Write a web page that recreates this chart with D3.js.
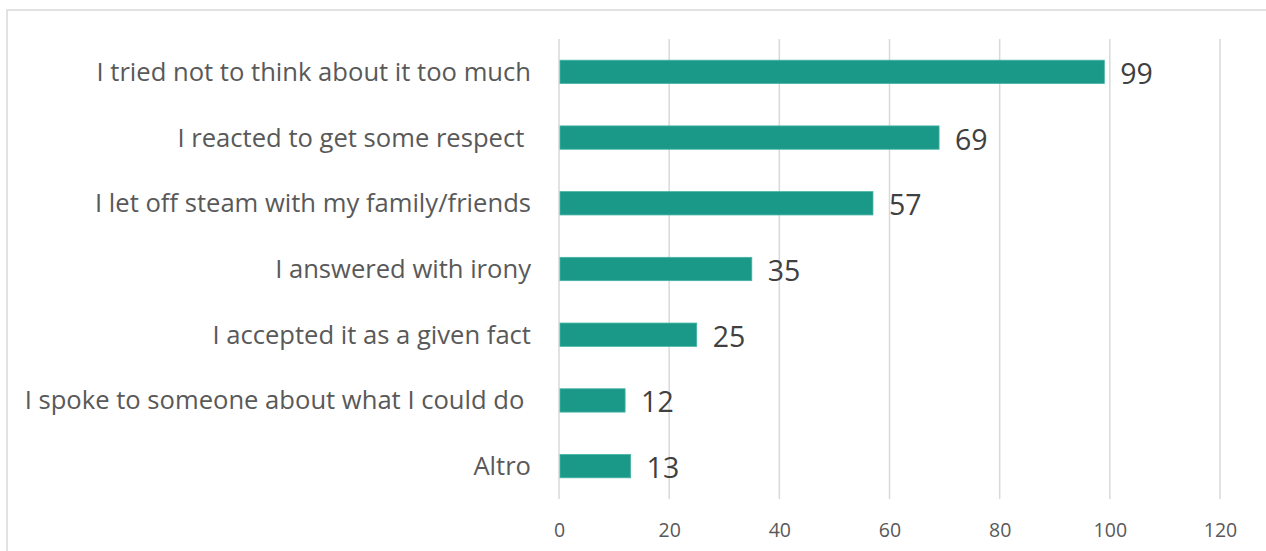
<!DOCTYPE html>
<html>
<head>
<meta charset="utf-8">
<script src="https://cdn.jsdelivr.net/npm/d3@7"></script>
<style>
  html, body { margin: 0; padding: 0; background: #fff; }
  svg { display: block; }
</style>
</head>
<body>
<svg id="chart" width="1266" height="551"></svg>
<script>
// Reactions, one bar per answer
const categories = [
  "I tried not to think about it too much",
  "I reacted to get some respect ",
  "I let off steam with my family/friends",
  "I answered with irony",
  "I accepted it as a given fact",
  "I spoke to someone about what I could do ",
  "Altro"
];
const values = [99, 69, 57, 35, 25, 12, 13];
const tickValues = [0, 20, 40, 60, 80, 100, 120];

const svg = d3.select("#chart");
const W = 1266, H = 551;

// chart frame
svg.append("rect")
  .attr("x", 7).attr("y", 10)
  .attr("width", W + 10).attr("height", H + 10)
  .attr("fill", "#fff")
  .attr("stroke", "#d9d9d9").attr("stroke-width", 1.5);

const plotTop = 39, plotBottom = 499;

const x = d3.scaleLinear().domain([0, 120]).range([559, 1220]);
const y = d3.scaleBand()
  .domain(categories)
  .range([plotTop, plotBottom])
  .paddingInner(0.645)
  .paddingOuter(0.3225);

// vertical gridlines
svg.append("g")
  .selectAll("line")
  .data(tickValues)
  .join("line")
  .attr("x1", d => x(d)).attr("x2", d => x(d))
  .attr("y1", plotTop).attr("y2", plotBottom)
  .attr("stroke", "#d9d9d9").attr("stroke-width", 1.5);

// value axis labels
const axis = d3.axisBottom(x).tickValues(tickValues).tickSize(0).tickPadding(0);
const gx = svg.append("g").attr("transform", `translate(0, 524)`).call(axis);
gx.select(".domain").remove();
gx.selectAll("text")
  .attr("dy", "0.35em")
  .attr("y", 6)
  .attr("fill", "#595959")
  .style("font-family", "'Open Sans', sans-serif")
  .style("font-size", "19.5px");

// bars
svg.append("g")
  .selectAll("rect")
  .data(categories)
  .join("rect")
  .attr("x", x(0) + 1)
  .attr("y", d => y(d))
  .attr("width", (d, i) => x(values[i]) - x(0) - 1)
  .attr("height", y.bandwidth())
  .attr("fill", "#1a9988")
  .attr("stroke", "#45b3a4").attr("stroke-width", 0.8);

// category labels
svg.append("g")
  .selectAll("text")
  .data(categories)
  .join("text")
  .attr("x", 531)
  .attr("y", d => y(d) + y.bandwidth() / 2)
  .attr("dy", "0.35em")
  .attr("text-anchor", "end")
  .attr("fill", "#595959")
  .style("white-space", "pre")
  .style("font-family", "'Open Sans', sans-serif")
  .style("font-size", "25.6px")
  .text(d => d);

// value labels
svg.append("g")
  .selectAll("text")
  .data(categories)
  .join("text")
  .attr("x", (d, i) => x(values[i]) + 16)
  .attr("y", d => y(d) + y.bandwidth() / 2 + 2)
  .attr("dy", "0.35em")
  .attr("fill", "#404040")
  .style("font-family", "'Open Sans', sans-serif")
  .style("font-size", "28.5px")
  .text((d, i) => values[i]);
</script>
</body>
</html>
